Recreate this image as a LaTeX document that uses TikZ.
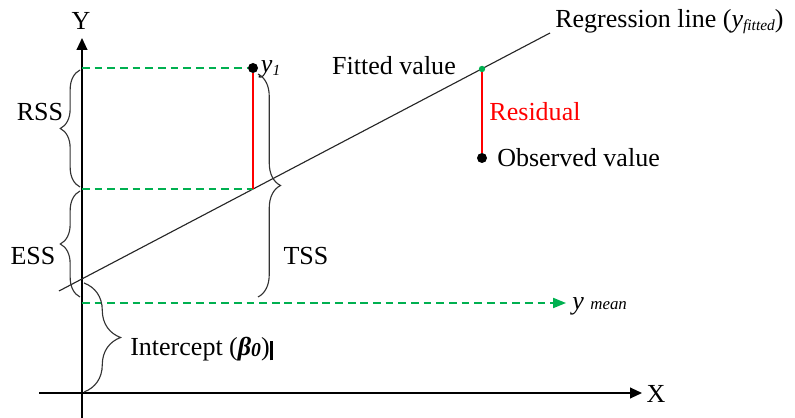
\documentclass[tikz,border=0pt]{standalone}
\usepackage{fontspec}
\setmainfont{Liberation Serif}
\usetikzlibrary{arrows.meta,decorations.pathreplacing,positioning}
\definecolor{dashgreen}{RGB}{0,176,80}
\tikzset{
  lbl/.style={font=\fontsize{18.5}{22}\selectfont, inner sep=0pt},
  gdash/.style={dashgreen, line width=1.2pt, dash pattern=on 5.5pt off 3.5pt},
  brc/.style={decorate, decoration={brace, amplitude=#1}, line width=0.8pt, black!80},
  dot/.style={circle, fill=black, inner sep=0pt, minimum size=0.25cm},
  axis/.style={line width=1.2pt, -{Triangle[length=0.3cm,width=0.27cm]}}
}
\newcommand{\smallsub}[1]{\raisebox{-2pt}{\fontsize{11}{11}\selectfont\textit{#1}}}

\begin{document}
\begin{tikzpicture}[x=0.025cm, y=-0.025cm]
  \useasboundingbox (0,0) rectangle (795,418);
  % axes
  \coordinate (ybot) at (82,418);
  \coordinate (ytop) at (82,38);
  \coordinate (xleft) at (39,393);
  \coordinate (xright) at (642,393);
  \draw[axis] (ybot) -- (ytop);
  \draw[axis] (xleft) -- (xright);
  \node[lbl] (ylab) at (81,21) {Y};
  \node[lbl] (xlab) at (656,394) {X};
  % regression line
  \coordinate (rs) at (59,291);
  \coordinate (re) at (550,33);
  \draw[line width=0.8pt, black!85] (rs) -- (re);
  \node[lbl, anchor=west] (reglab) at (555,22) {Regression line (\textit{y}\smallsub{fitted})};
  % points
  \node[dot] (y1) at (253,68) {};
  \node[lbl, right=0.06cm of y1, yshift=-1pt] (y1lab) {\textit{y}\smallsub{1}};
  \node[dot, fill=dashgreen, minimum size=0.16cm] (fit) at (482,69) {};
  \node[dot] (obs) at (482,158) {};
  \coordinate (foot) at (253,189);
  % green dashed guides
  \coordinate (a1) at (82,68);
  \coordinate (a2) at (82,189);
  \coordinate (a3) at (82,303);
  \coordinate (mtip) at (566,303);
  \draw[gdash] (a1) -- (y1);
  \draw[gdash] (a2) -- (foot);
  \draw[gdash, -{Triangle[length=0.32cm,width=0.25cm]}] (a3) -- (mtip);
  \node[lbl, anchor=west] (meanlab) at (572,306) {\textit{y} {\fontsize{12}{12}\selectfont\textit{mean}}};
  % residuals
  \draw[red, line width=1pt] (y1) -- (foot);
  \draw[red, line width=1pt] (fit) -- (obs);
  \node[lbl] (fitlab) at (394,66) {Fitted value};
  \node[lbl, red] (reslab) at (535,112) {Residual};
  \node[lbl, anchor=west] (obslab) at (497,158) {Observed value};
  % braces
  \draw[brc=14pt] (80,187) -- (80,70);
  \node[lbl] (rss) at (40,112) {RSS};
  \draw[brc=14pt] (80,297) -- (80,191);
  \node[lbl] (ess) at (33,256) {ESS};
  \draw[brc=16pt] (258,74) -- (258,297);
  \node[lbl] (tss) at (306,256) {TSS};
  \draw[brc=26pt] (84,283) -- (84,392);
  \node[lbl, anchor=west] (icpt) at (130,349) {Intercept (\textbf{\textit{β\raisebox{-1pt}{\fontsize{14}{14}\selectfont 0}}})\rule[-3.5pt]{2pt}{13.5pt}};
\end{tikzpicture}
\end{document}
